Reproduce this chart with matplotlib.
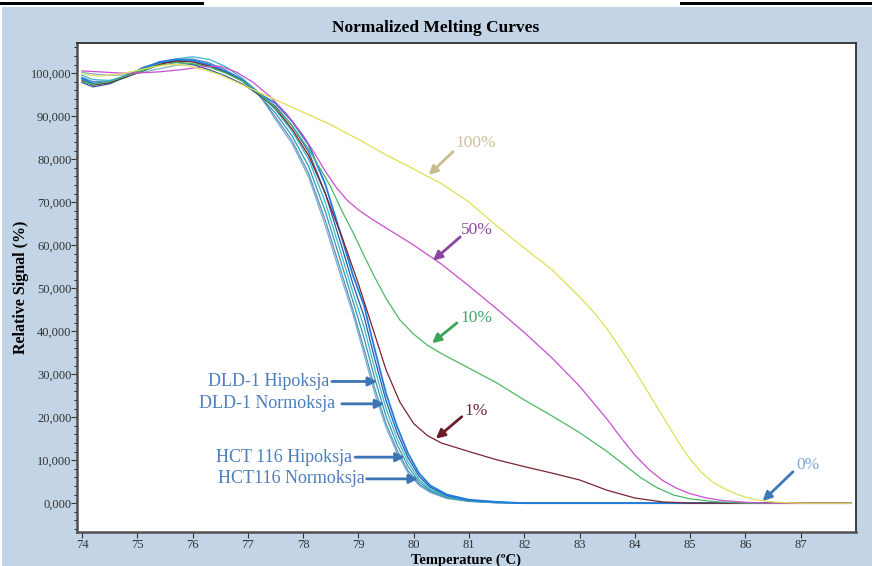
import numpy as np
import matplotlib.pyplot as plt
from matplotlib.patches import Rectangle
from matplotlib.ticker import FuncFormatter, MultipleLocator

plt.rcParams['font.family'] = ['Liberation Serif', 'DejaVu Serif']

# ---- data ----
# temperature grid shared by the early (pre-melt) part of the cell line curves
t_early = [74.0, 74.2, 74.5, 74.8, 75.1, 75.4, 75.7, 76.0, 76.3, 76.6, 76.9, 77.2]
# temperature grid for the melting part of the cell line curves
t_melt = [77.5, 77.8, 78.1, 78.4, 78.7, 78.9, 79.1, 79.3, 79.5, 79.7, 79.9,
          80.1, 80.3, 80.6, 81.0, 81.5, 82.0, 87.9]

dld_hipo_early = [98.5, 97.3, 97.8, 99.0, 100.8, 102.3, 103.0, 102.8, 101.8, 100.2, 98.2, 94.8]
dld_hipo_melt = [90.7, 85.4, 78.3, 67.9, 55.4, 47.0, 38.5, 28.8, 20.2, 13.6, 8.5, 4.9, 3.0, 1.4, 0.5, 0.15, 0.0, 0.0]

dld_norm_early = [99.5, 98.5, 98.3, 99.2, 100.5, 102.0, 103.3, 103.8, 103.2, 101.5, 98.8, 95.5]
dld_norm_melt = [91.5, 86.5, 80.0, 70.0, 57.5, 49.0, 41.0, 31.0, 22.0, 15.0, 9.5, 5.5, 3.3, 1.6, 0.6, 0.2, 0.0, 0.0]

hct_hipo_early = [97.8, 96.8, 97.5, 99.2, 101.3, 102.5, 102.6, 102.0, 100.8, 99.3, 97.5, 95.0]
hct_hipo_melt = [92.3, 87.8, 81.7, 72.1, 59.6, 51.0, 43.5, 33.3, 23.8, 16.4, 10.5, 6.2, 3.7, 1.8, 0.7, 0.25, 0.0, 0.0]

hct_norm_early = [98.8, 97.6, 97.9, 99.3, 101.0, 102.6, 103.2, 103.0, 102.0, 100.4, 98.4, 95.2]
hct_norm_melt = [93.0, 88.8, 83.3, 74.2, 61.7, 53.0, 46.0, 35.5, 25.5, 17.8, 11.5, 6.9, 4.1, 2.0, 0.8, 0.3, 0.0, 0.0]

zero_a_early = [100.2, 99.8, 99.5, 99.6, 100.2, 101.0, 101.8, 102.0, 101.5, 100.3, 98.5, 95.3]
zero_a_melt = [89.2, 83.6, 75.8, 64.6, 52.0, 44.0, 34.7, 25.3, 17.6, 11.6, 7.0, 4.1, 2.5, 1.1, 0.4, 0.08, 0.0, 0.0]

zero_b_early = [99.0, 98.0, 98.2, 99.5, 101.0, 102.4, 103.1, 103.3, 102.4, 100.7, 98.5, 95.0]
zero_b_melt = [89.8, 84.3, 76.7, 65.8, 53.3, 45.0, 36.0, 26.5, 18.5, 12.3, 7.5, 4.4, 2.7, 1.2, 0.45, 0.1, 0.0, 0.0]

# spiked mixtures (1%, 10%, 50%, 100%)
t_p1 = [74.0, 74.2, 74.5, 75.0, 75.4, 75.7, 76.0, 76.3, 76.6, 76.9, 77.2, 77.5, 77.8, 78.1,
        78.4, 78.7, 79.0, 79.25, 79.5, 79.75, 80.0, 80.25, 80.5, 81.0, 81.5, 82.0, 82.5,
        83.0, 83.5, 84.0, 84.5, 85.0, 87.9]
p1 = [98.2, 97.2, 97.8, 100.0, 102.0, 102.8, 102.6, 101.6, 100.1, 98.2, 95.0, 91.8, 87.0, 80.8,
      72.0, 62.0, 51.0, 41.0, 31.0, 23.5, 18.5, 15.7, 14.0, 12.0, 10.1, 8.5, 7.0,
      5.4, 3.0, 1.2, 0.3, 0.0, 0.0]

t_p10 = [74.0, 74.2, 74.5, 75.0, 75.4, 75.7, 76.0, 76.3, 76.6, 76.9, 77.2, 77.5, 77.8, 78.1,
         78.3, 78.5, 78.7, 78.9, 79.1, 79.3, 79.5, 79.75, 80.0, 80.25, 80.5, 81.0, 81.5,
         82.0, 82.5, 83.0, 83.5, 83.8, 84.1, 84.4, 84.7, 85.0, 85.4, 86.0, 87.9]
p10 = [98.0, 97.4, 98.0, 100.2, 101.8, 102.4, 102.2, 101.4, 100.0, 98.2, 95.2, 92.0, 87.8, 82.3,
       78.0, 73.5, 68.0, 63.0, 57.6, 52.4, 47.6, 42.6, 39.3, 36.7, 34.8, 31.4, 28.0,
       24.0, 20.3, 16.4, 12.0, 9.0, 6.0, 3.6, 1.9, 1.0, 0.4, 0.0, 0.0]

t_p50 = [74.0, 74.3, 74.7, 75.0, 75.4, 75.8, 76.2, 76.5, 76.8, 77.1, 77.4, 77.7, 78.0, 78.2,
         78.4, 78.6, 78.8, 79.0, 79.25, 79.5, 79.75, 80.0, 80.5, 81.0, 81.5, 82.0, 82.5,
         83.0, 83.5, 83.75, 84.0, 84.25, 84.5, 84.75, 85.0, 85.3, 85.6, 86.0, 86.5, 87.9]
p50 = [100.5, 100.3, 100.0, 100.0, 100.3, 100.8, 101.5, 101.6, 100.2, 97.8, 94.6, 90.5, 85.5, 81.5,
       77.2, 73.4, 70.4, 68.2, 66.0, 64.0, 62.0, 60.0, 55.6, 50.5, 45.2, 39.7, 33.8,
       27.2, 19.5, 15.2, 11.2, 7.9, 5.3, 3.5, 2.2, 1.2, 0.6, 0.2, 0.0, 0.0]

t_p100 = [74.0, 74.3, 74.7, 75.0, 75.3, 75.6, 75.9, 76.2, 76.5, 77.0, 77.5, 78.0, 78.5, 79.0,
          79.5, 80.0, 80.5, 81.0, 81.5, 82.0, 82.5, 83.0, 83.25, 83.5, 83.75, 84.0, 84.3,
          84.6, 84.8, 85.0, 85.2, 85.4, 85.6, 85.8, 86.0, 86.2, 86.4, 86.6, 87.0, 87.9]
p100 = [99.8, 99.3, 99.8, 100.6, 101.5, 102.0, 101.8, 100.8, 99.6, 96.7, 93.8, 90.9, 88.0, 84.6,
        81.0, 77.7, 74.3, 70.0, 64.5, 59.3, 54.3, 48.0, 44.5, 40.5, 35.8, 30.8, 24.5,
        18.2, 14.0, 10.2, 7.2, 5.0, 3.5, 2.3, 1.4, 0.8, 0.4, 0.2, 0.0, 0.0]

cell_labels = ["DLD-1 Hipoksja", "DLD-1 Normoksja", "HCT 116 Hipoksja", "HCT116 Normoksja"]
pct_labels = ["100%", "50%", "10%", "1%", "0%"]

# ---- figure ----
fig = plt.figure(figsize=(8.72, 5.66), dpi=100)
fig.patch.set_facecolor("white")
# light blue panel, white strip on top with two black bars
fig.patches.append(Rectangle((2 / 872, 0), 870 / 872, 559 / 566, transform=fig.transFigure,
                             facecolor="#c2d4e5", edgecolor="none", zorder=-2))
fig.patches.append(Rectangle((0, 561 / 566), 204 / 872, 3 / 566, transform=fig.transFigure,
                             facecolor="black", edgecolor="none", zorder=-1))
fig.patches.append(Rectangle((680 / 872, 561 / 566), 192 / 872, 3 / 566, transform=fig.transFigure,
                             facecolor="black", edgecolor="none", zorder=-1))

ax = fig.add_axes([77 / 872, 34 / 566, 779 / 872, 489 / 566])
ax.set_facecolor("white")

lw = 0.9
t_cell = t_early + t_melt
ax.plot(t_cell, zero_a_early + zero_a_melt, color="#7fb0d0", lw=lw)
ax.plot(t_cell, zero_b_early + zero_b_melt, color="#5a8fc0", lw=lw)
ax.plot(t_cell, dld_hipo_early + dld_hipo_melt, color="#2f9aa8", lw=lw)
ax.plot(t_cell, dld_norm_early + dld_norm_melt, color="#39b7cf", lw=lw)
ax.plot(t_cell, hct_hipo_early + hct_hipo_melt, color="#2c5aa0", lw=lw)
ax.plot(t_cell, hct_norm_early + hct_norm_melt, color="#1f7fe0", lw=1.3)
ax.plot(t_p1, p1, color="#7a2430", lw=lw)
ax.plot(t_p10, p10, color="#4db866", lw=lw)
ax.plot(t_p50, p50, color="#c94fcf", lw=lw)
ax.plot(t_p100, p100, color="#e2df55", lw=lw)

ax.set_xlim(73.91, 88.0)
ax.set_ylim(-6.7, 107.0)

# ---- annotations ----
def pct_note(label, text_xy, tail, tip, color, tcolor):
    ax.annotate("", xy=tip, xytext=tail,
                arrowprops=dict(arrowstyle="-|>", color=color, lw=2.0, mutation_scale=13,
                                shrinkA=0, shrinkB=0))
    ax.text(text_xy[0], text_xy[1], label, color=tcolor, fontsize=12.5,
            ha="left", va="center")

pct_note(pct_labels[0], (80.76, 83.8), (80.71, 81.7), (80.27, 76.3), "#c9bd90", "#cfc097")
pct_note(pct_labels[1], (80.86, 63.5), (80.84, 61.9), (80.35, 56.4), "#8e43a0", "#8a4a9e")
pct_note(pct_labels[2], (80.84, 43.1), (80.78, 41.9), (80.33, 37.2), "#3da35a", "#45a868")
pct_note(pct_labels[3], (80.92, 21.5), (80.87, 20.1), (80.40, 15.0), "#6e1c2a", "#7a2535")
pct_note(pct_labels[4], (86.92, 8.9), (86.86, 7.3), (86.31, 0.5), "#3f78b8", "#7ea6d0")

cell_tail = [(78.52, 28.3), (78.70, 23.1), (78.94, 10.7), (79.15, 5.65)]
cell_tip = [(79.34, 28.3), (79.47, 23.1), (79.84, 10.7), (80.08, 5.65)]
cell_text_x = [78.47, 78.58, 78.88, 79.12]
for i in range(len(cell_labels)):
    ax.annotate("", xy=cell_tip[i], xytext=cell_tail[i],
                arrowprops=dict(arrowstyle="-|>", color="#3c74b4", lw=2.0, mutation_scale=13,
                                shrinkA=0, shrinkB=0))
    ax.text(cell_text_x[i], cell_tail[i][1], cell_labels[i], color="#4d7fbd", fontsize=13,
            ha="right", va="center")

# ---- axes styling ----
ax.set_xticks(np.arange(74, 88, 1))
ax.set_yticks(np.arange(0, 101, 10))
ax.yaxis.set_minor_locator(MultipleLocator(2))
ax.yaxis.set_major_formatter(FuncFormatter(lambda v, p: "{:.3f}".format(v).replace(".", ",")))
ax.tick_params(axis="both", labelsize=9, colors="#333333", length=4, width=0.8, pad=1)
ax.tick_params(axis="y", which="major", pad=0)
ax.tick_params(axis="y", which="minor", length=2, width=0.6)
for s in ["left", "bottom"]:
    ax.spines[s].set_linewidth(1.8)
    ax.spines[s].set_color("#505050")
for s in ["top", "right"]:
    ax.spines[s].set_linewidth(1.3)
    ax.spines[s].set_color("#303030")

fig.text(0.5, 1 - 28 / 566, "Normalized Melting Curves", ha="center", va="center",
         fontsize=12.5, fontweight="bold")
ax.set_ylabel("Relative Signal (%)", fontsize=11.5, fontweight="bold")
ax.yaxis.set_label_coords(-0.062, 0.5)
fig.text(466 / 872, 1 - 560 / 566, "Temperature (ºC)", ha="center", va="center",
         fontsize=10.5, fontweight="bold")

fig.savefig("out.png", dpi=100)
